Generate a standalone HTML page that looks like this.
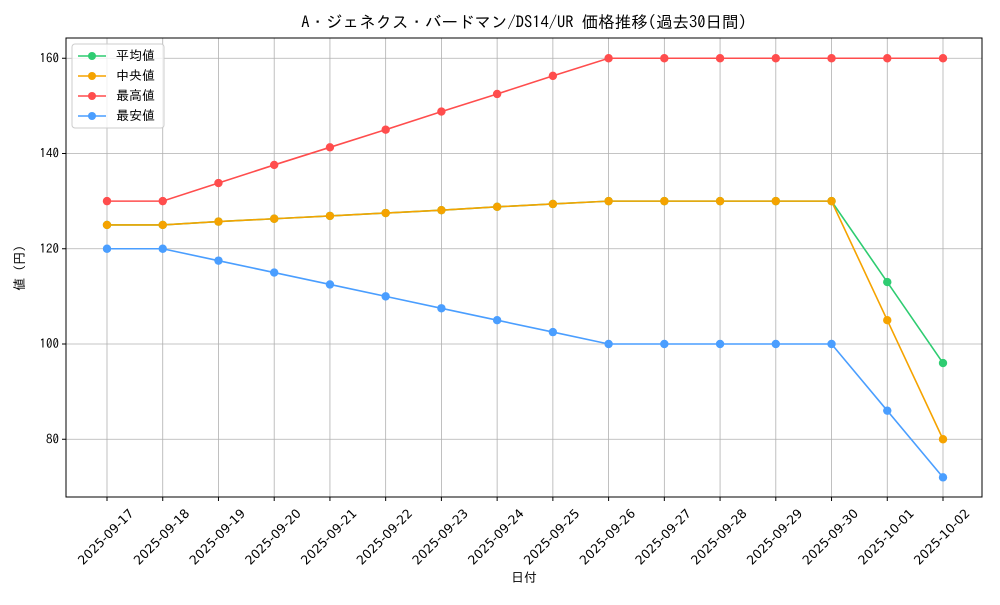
<!DOCTYPE html>
<html><head><meta charset="utf-8"><style>
body{margin:0;background:#fff}
text{font-family:"IPAGothic","Liberation Mono",monospace;fill:#000}
#xt text{font-family:"DejaVu Sans","Liberation Sans",sans-serif}
</style></head><body>
<svg width="1000" height="600" xmlns="http://www.w3.org/2000/svg">
<rect width="1000" height="600" fill="#fff"/>
<text x="524" y="28" font-size="16.5" text-anchor="middle">A・ジェネクス・バードマン/DS14/UR 価格推移(過去30日間)</text>
<g id="grid" stroke="#b0b0b0" stroke-width="0.8"></g>
<rect x="66" y="38" width="916" height="459" fill="none" stroke="#000" stroke-width="1"/>
<g id="yt" font-size="13"></g>
<g id="xt" font-size="12.5"></g>
<text x="524" y="582" font-size="13" text-anchor="middle">日付</text>
<text x="0" y="0" font-size="13" text-anchor="middle" transform="translate(24,268) rotate(-90)">値 (円)</text>
<g id="series"></g>
<g>
<rect x="72" y="44" width="92" height="84" fill="#fff" fill-opacity="0.8" stroke="#ccc" rx="3"/>
<line x1="78" y1="56" x2="106" y2="56" stroke="#2ecc71" stroke-width="1.5"/><circle cx="92" cy="56" r="4" fill="#2ecc71"/><text x="116" y="60" font-size="13">平均値</text>
<line x1="78" y1="76" x2="106" y2="76" stroke="#f5a300" stroke-width="1.5"/><circle cx="92" cy="76" r="4" fill="#f5a300"/><text x="116" y="80" font-size="13">中央値</text>
<line x1="78" y1="96" x2="106" y2="96" stroke="#ff4d4d" stroke-width="1.5"/><circle cx="92" cy="96" r="4" fill="#ff4d4d"/><text x="116" y="100" font-size="13">最高値</text>
<line x1="78" y1="116" x2="106" y2="116" stroke="#4a9eff" stroke-width="1.5"/><circle cx="92" cy="116" r="4" fill="#4a9eff"/><text x="116" y="120" font-size="13">最安値</text>
</g>
</svg>
<script>
const ns="http://www.w3.org/2000/svg";
function el(p,t,a,txt){const e=document.createElementNS(ns,t);for(const k in a)e.setAttribute(k,a[k]);if(txt)e.textContent=txt;p.appendChild(e);return e;}
const X=i=>107+i*836/15, Y=v=>344-(v-100)*4.7625;
const g=document.getElementById('grid'),yt=document.getElementById('yt'),xt=document.getElementById('xt'),s=document.getElementById('series');
for(const v of [80,100,120,140,160]){el(g,'line',{x1:66,x2:982,y1:Y(v),y2:Y(v)});el(yt,'line',{x1:62,x2:66,y1:Y(v),y2:Y(v),stroke:'#000'});el(yt,'text',{x:59,y:Y(v)+4,'text-anchor':'end'},v);}
const d=["2025-09-17","2025-09-18","2025-09-19","2025-09-20","2025-09-21","2025-09-22","2025-09-23","2025-09-24","2025-09-25","2025-09-26","2025-09-27","2025-09-28","2025-09-29","2025-09-30","2025-10-01","2025-10-02"];
d.forEach((t,i)=>{el(g,'line',{x1:X(i),x2:X(i),y1:38,y2:497});el(xt,'line',{x1:X(i),x2:X(i),y1:497,y2:501,stroke:'#000'});el(xt,'text',{x:0,y:4,'text-anchor':'middle',transform:`translate(${X(i)-1},${537}) rotate(-45)`},t);});
const S=[["#2ecc71",[125,125,125.7,126.3,126.9,127.5,128.1,128.8,129.4,130,130,130,130,130,113,96]],
["#f5a300",[125,125,125.7,126.3,126.9,127.5,128.1,128.8,129.4,130,130,130,130,130,105,80]],
["#ff4d4d",[130,130,133.8,137.6,141.3,145,148.8,152.5,156.3,160,160,160,160,160,160,160]],
["#4a9eff",[120,120,117.5,115,112.5,110,107.5,105,102.5,100,100,100,100,100,86,72]]];
for(const [c,v] of S){el(s,'polyline',{points:v.map((y,i)=>X(i)+','+Y(y)).join(' '),fill:'none',stroke:c,'stroke-width':1.6});v.forEach((y,i)=>el(s,'circle',{cx:X(i),cy:Y(y),r:4.2,fill:c}));}
</script>
</body></html>
